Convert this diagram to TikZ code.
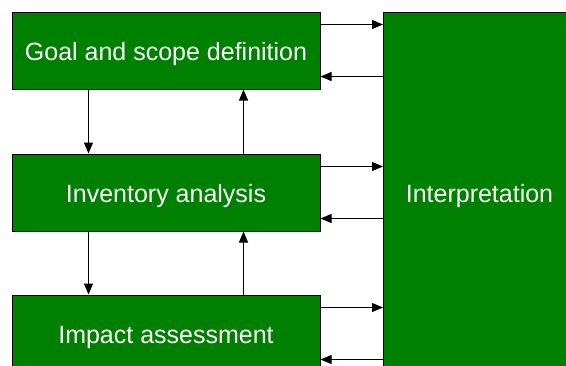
\documentclass[tikz,border=0pt]{standalone}
\usepackage{fontspec}
\setmainfont{Liberation Sans}
\usetikzlibrary{arrows.meta}
\definecolor{boxgreen}{RGB}{0,128,0}
\tikzset{
  box/.style={draw=black, line width=1pt, fill=boxgreen, text=white, rectangle, inner sep=0pt,
    text height=23.5pt, text depth=3pt, font=\fontsize{25}{30}\selectfont},
  arr/.style={draw=black, line width=1pt, -{Triangle[length=11pt,width=9pt]}}
}
\begin{document}
\begin{tikzpicture}[x=1pt,y=1pt]
\useasboundingbox (0,0) rectangle (566,-365);
\clip (0,0) rectangle (566,-365);
\node[box, minimum width=308pt, minimum height=77pt] (goal) at (166,-50.5) {Goal and scope definition};
\node[box, minimum width=308pt, minimum height=77pt] (inv) at (166,-192.5) {Inventory analysis};
\node[box, minimum width=308pt, minimum height=77pt] (imp) at (166,-333.5) {Impact assessment};
\node[box, minimum width=192pt, minimum height=360pt] (interp) at (479.5,-192) {Interpretation};
% horizontal arrows
\draw[arr] ([yshift=-13pt]goal.north east) -- ([yshift=-13pt]interp.west |- goal.north east);
\draw[arr] ([yshift=13pt]interp.west |- goal.south east) -- ([yshift=13pt]goal.south east);
\draw[arr] ([yshift=-13pt]inv.north east) -- ([yshift=-13pt]interp.west |- inv.north east);
\draw[arr] ([yshift=13pt]interp.west |- inv.south east) -- ([yshift=13pt]inv.south east);
\draw[arr] ([yshift=-13pt]imp.north east) -- ([yshift=-13pt]interp.west |- imp.north east);
\draw[arr] ([yshift=13pt]interp.west |- imp.south east) -- ([yshift=13pt]imp.south east);
% vertical arrows
\draw[arr] ([xshift=77pt]goal.south west) -- ([xshift=77pt]inv.north west);
\draw[arr] ([xshift=-77pt]inv.north east) -- ([xshift=-77pt]goal.south east);
\draw[arr] ([xshift=77pt]inv.south west) -- ([xshift=77pt]imp.north west);
\draw[arr] ([xshift=-77pt]imp.north east) -- ([xshift=-77pt]inv.south east);
\end{tikzpicture}
\end{document}
